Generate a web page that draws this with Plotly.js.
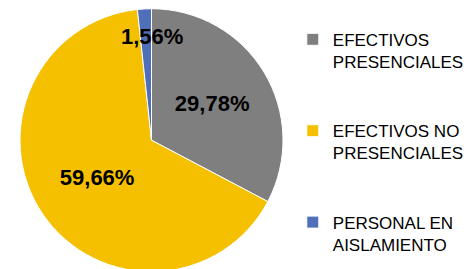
<!DOCTYPE html>
<html>
<head>
<meta charset="utf-8">
<script src="https://cdn.plot.ly/plotly-3.0.1.min.js"></script>
<style>
html,body{margin:0;padding:0;width:473px;height:269px;overflow:hidden;background:#fff;}
#chart{width:473px;height:272px;}
</style>
</head>
<body>
<div id="chart"></div>
<script>
const categories = ["EFECTIVOS<br>PRESENCIALES<br> <br> ", "EFECTIVOS NO<br>PRESENCIALES<br> <br> ", "PERSONAL EN<br>AISLAMIENTO"];
const values = [29.78, 59.66, 1.56];
const valueLabels = ["29,78%", "59,66%", "1,56%"];
const colors = ["#7f7f7f", "#f5c000", "#4f70b8"];

const W = 473, H = 272;
const dom = {x: [20/W, 283/W], y: [0, 0.969]};
// pie geometry derived from the domain
const cx = (dom.x[0] + dom.x[1]) / 2 * W;
const domH = (dom.y[1] - dom.y[0]) * H;
const rad = Math.min((dom.x[1] - dom.x[0]) * W, domH) / 2;
const cyPaper = (dom.y[0] + dom.y[1]) / 2; // paper fraction from bottom
const total = values.reduce((a, b) => a + b, 0);
// mid angle (clockwise from top) of the last slice
let cum = 0;
for (let i = 0; i < values.length - 1; i++) cum += values[i];
const midAng = (cum + values[values.length - 1] / 2) / total * 2 * Math.PI;
const lr = 0.79 * rad;
const annX = (cx + Math.sin(midAng) * lr + 6) / W;
const annY = cyPaper + Math.cos(midAng) * lr / H;

Plotly.newPlot("chart", [{
  type: "pie",
  labels: categories,
  values: values,
  text: valueLabels,
  textinfo: "text",
  hoverinfo: "label+text",
  sort: false,
  direction: "clockwise",
  rotation: 0,
  marker: {colors: colors, line: {color: "#ffffff", width: 1}},
  textposition: ["inside", "inside", "none"],
  insidetextorientation: "horizontal",
  textfont: {family: "Liberation Sans, Arial, sans-serif", size: 22, color: "#000000", weight: "bold"},
  domain: dom
}], {
  width: W,
  height: H,
  margin: {l: 0, r: 0, t: 0, b: 0},
  paper_bgcolor: "#ffffff",
  showlegend: true,
  annotations: [{
    xref: "paper", yref: "paper", x: annX, y: annY,
    xanchor: "center", yanchor: "middle", showarrow: false,
    text: "<b>" + valueLabels[2] + "</b>",
    font: {family: "Liberation Sans, Arial, sans-serif", size: 22, color: "#000000"}
  }],
  legend: {
    x: 0.619, xanchor: "left",
    y: 0.92, yanchor: "top",
    valign: "top",
    font: {family: "Liberation Sans, Arial, sans-serif", size: 17, color: "#000000"},
    bgcolor: "rgba(0,0,0,0)"
  }
}, {displayModeBar: false, staticPlot: true});
</script>
</body>
</html>
